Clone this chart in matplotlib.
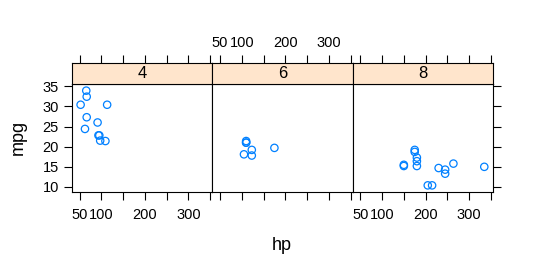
import matplotlib
matplotlib.use("Agg")
import matplotlib.pyplot as plt

plt.rcParams['font.family'] = ['Liberation Sans', 'DejaVu Sans']

# mtcars: hp and mpg by number of cylinders
cyl_levels = ["4", "6", "8"]
hp_4 = [93, 62, 95, 66, 52, 65, 97, 66, 91, 113, 109]
mpg_4 = [22.8, 24.4, 22.8, 32.4, 30.4, 33.9, 21.5, 27.3, 26.0, 30.4, 21.4]
hp_6 = [110, 110, 110, 105, 123, 123, 175]
mpg_6 = [21.0, 21.0, 21.4, 18.1, 19.2, 17.8, 19.7]
hp_8 = [175, 245, 180, 180, 180, 205, 215, 230, 150, 150, 245, 175, 264, 335]
mpg_8 = [18.7, 14.3, 16.4, 17.3, 15.2, 10.4, 10.4, 14.7, 15.5, 15.2, 13.3, 19.2, 15.8, 15.0]

x_ticks = [50, 100, 150, 200, 250, 300, 350]
x_ticklabels = ["50", "100", "", "200", "", "300", ""]
y_ticks = [10, 15, 20, 25, 30, 35]

hp_series = [hp_4, hp_6, hp_8]
mpg_series = [mpg_4, mpg_6, mpg_8]

W, H = 536, 268
fig = plt.figure(figsize=(W / 100, H / 100), dpi=100)

all_hp = hp_4 + hp_6 + hp_8
all_mpg = mpg_4 + mpg_6 + mpg_8
xr = max(all_hp) - min(all_hp)
yr = max(all_mpg) - min(all_mpg)
xlim = (min(all_hp) - 0.07 * xr, max(all_hp) + 0.07 * xr)
ylim = (min(all_mpg) - 0.07 * yr, max(all_mpg) + 0.07 * yr)

panel_left = 72.0
panel_w = 140.3
panel_top = 84.0
panel_bot = 192.0
strip_top = 63.0

def frac(x0, y0, x1, y1):
    return [x0 / W, (H - y1) / H, (x1 - x0) / W, (y1 - y0) / H]

tick_kw = dict(direction='out', length=5.5, width=0.8, labelsize=10.5, colors='black')
blue = '#0080ff'

for i, (lev, hx, my) in enumerate(zip(cyl_levels, hp_series, mpg_series)):
    x0 = panel_left + i * panel_w
    x1 = x0 + panel_w
    ax = fig.add_axes(frac(x0, panel_top, x1, panel_bot))
    ax.scatter(hx, my, s=28, facecolors='none', edgecolors=blue, linewidths=0.9)
    ax.set_xlim(*xlim)
    ax.set_ylim(*ylim)
    ax.set_xticks(x_ticks)
    ax.set_yticks(y_ticks)
    ax.tick_params(**tick_kw)
    ax.tick_params(axis='x', pad=6)
    ax.tick_params(axis='y', pad=4)
    if i in (0, 2):
        ax.set_xticklabels(x_ticklabels)
    else:
        ax.tick_params(axis='x', labelbottom=False)
    if i == 0:
        ax.tick_params(axis='y', left=True, labelleft=True, right=False)
    elif i == 2:
        ax.tick_params(axis='y', left=False, labelleft=False, right=True, labelright=False)
    else:
        ax.tick_params(axis='y', left=False, labelleft=False)
    for sp in ax.spines.values():
        sp.set_linewidth(0.8)

    # strip
    sax = fig.add_axes(frac(x0, strip_top, x1, panel_top))
    sax.set_facecolor('#ffe5cc')
    sax.set_xlim(*xlim)
    sax.set_ylim(0, 1)
    sax.set_xticks(x_ticks)
    sax.set_yticks([])
    sax.tick_params(**tick_kw)
    sax.tick_params(axis='x', bottom=False, labelbottom=False, top=True, pad=4)
    if i == 1:
        sax.set_xticklabels(x_ticklabels)
        sax.tick_params(axis='x', labeltop=True)
    else:
        sax.tick_params(axis='x', labeltop=False)
    sax.text(0.5, 0.5, lev, transform=sax.transAxes, ha='center', va='center', fontsize=12)
    for sp in sax.spines.values():
        sp.set_linewidth(0.8)

fig.text(18 / W, 1 - 137 / H, "mpg", rotation=90, ha='center', va='center', fontsize=13)
fig.text(282 / W, 1 - 246 / H, "hp", ha='center', va='center', fontsize=13)

fig.savefig("out.png", dpi=100)
